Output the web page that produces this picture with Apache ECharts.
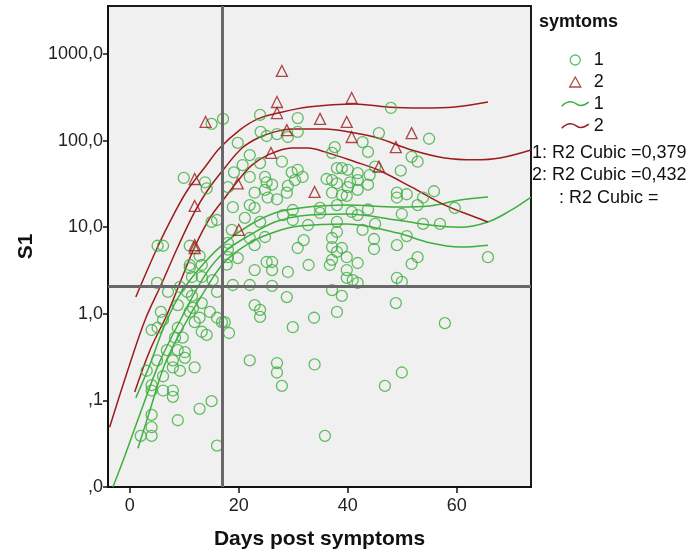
<!DOCTYPE html>
<html>
<head>
<meta charset="utf-8">
<script src="https://cdn.jsdelivr.net/npm/echarts@6/dist/echarts.min.js"></script>
<style>
html, body { margin: 0; background: #fff; }
#chart { width: 689px; height: 555px; }
</style>
</head>
<body>
<div id="chart"></div>
<script>
// symptoms = 1 (circles)
var group1Points = [
  [2.0,0.039],[4.0,0.039],[4.0,0.049],[4.0,0.068],[3.1,0.22],[4.0,0.15],[4.0,0.13],[5.0,0.29],[6.1,0.19],[6.1,0.13],
  [4.0,0.65],[5.1,0.69],[6.1,0.85],[5.7,1.05],[5.0,2.27],[7.0,1.79],[5.1,6.1],[6.1,6.1],
  [9.9,37],[15.0,156],[13.8,33],[14.1,28],[15.0,11.5],[16.0,12.1],[11.0,6.1],[12.8,4.65],[11.0,3.66],[11.0,3.38],
  [13.2,3.66],[11.4,2.66],[13.2,2.66],[15.2,2.45],[9.2,2.04],[10.5,1.79],[11.4,1.61],[16.0,1.79],[8.8,1.26],[11.6,1.17],
  [13.2,1.33],[11.0,1.05],[14.7,1.05],[11.9,0.80],[12.8,0.90],[16.0,0.90],[16.9,0.80],[13.2,0.62],[14.1,0.57],[8.8,0.69],
  [8.3,0.53],[9.7,0.53],[6.8,0.38],[8.8,0.38],[10.1,0.36],[7.9,0.29],[10.1,0.31],[7.9,0.24],[9.2,0.22],[11.9,0.24],
  [7.9,0.13],[7.9,0.11],[15.0,0.098],[12.8,0.080],[8.8,0.059],[16.0,0.030],
  [17.1,178],[19.8,94],[23.9,198],[24.0,126],[22.0,68],[23.9,55],[20.7,52],[19.1,43],[22.0,38],[18.0,29],
  [22.9,25],[18.9,17],[22.0,18],[22.9,16.7],[21.1,12.8],[23.9,11.5],[18.7,9.3],[22.0,7.5],[18.0,6.6],[22.9,6.2],
  [18.0,5.5],[18.0,4.5],[19.8,4.4],[17.8,3.7],[22.9,3.2],[18.9,2.15],[22.0,2.15],[22.9,1.26],[23.9,1.11],[23.9,0.92],
  [17.4,0.80],[18.2,0.60],[22.0,0.29],
  [30.8,182],[25.1,113],[27.0,119],[29.0,110],[30.8,126],[27.9,57],[24.8,38],[25.1,33],[26.1,31],[29.7,43],
  [30.8,46],[31.7,38],[30.3,35],[29.0,30],[28.8,25],[24.8,27],[25.3,22],[27.0,21],[28.1,13.8],[29.9,15.8],
  [29.9,12.1],[32.7,10.6],[24.8,7.7],[31.9,7.1],[30.8,5.75],[25.1,3.96],[26.1,3.96],[26.1,3.2],[29.0,3.04],[32.8,3.66],
  [26.1,2.1],[28.8,1.56],[29.9,0.70],[27.0,0.27],[27.0,0.21],[27.9,0.147],
  [37.6,84],[37.1,72],[38.0,48],[38.9,48],[40.0,46],[41.8,42],[36.1,36],[37.1,35],[38.0,32],[40.4,33],
  [41.8,35],[40.0,29],[41.8,27],[37.1,25],[38.9,23.5],[39.8,23],[38.0,18],[34.9,16.7],[34.9,14.6],[40.7,15],
  [41.8,13.8],[38.0,11.5],[38.0,8.8],[37.1,7.5],[37.1,5.9],[38.9,5.75],[38.0,5.2],[37.1,4.2],[39.8,4.5],[36.7,3.66],
  [41.8,3.86],[39.8,3.2],[39.8,2.6],[40.9,2.45],[41.8,2.27],[37.1,1.88],[38.9,1.61],[33.8,0.9],[38.0,1.05],[33.9,0.26],
  [35.8,0.039],
  [47.9,238],[45.7,122],[54.9,105],[42.7,96],[43.7,74],[45.0,50],[51.7,65],[52.8,57],[49.7,45],[44.0,40],
  [43.7,31],[49.0,25],[49.0,22],[50.8,24],[53.8,22],[55.8,26],[52.8,18],[59.6,16.7],[43.7,16],[49.9,14.2],
  [45.0,10.9],[53.8,10.9],[56.9,10.9],[42.7,9.3],[44.8,7.3],[50.8,7.9],[44.8,5.6],[49.0,6.2],[52.8,4.5],[51.7,3.76],
  [65.7,4.5],[49.0,2.6],[49.9,2.33],[48.8,1.33],[57.8,0.78],[49.9,0.21],[46.8,0.147]
];

// symptoms = 2 (triangles)
var group2Points = [
  [13.9,164],[11.9,36],[11.9,17.6],[11.9,6.2],[11.9,5.75],[20.0,9.3],[19.8,32],[25.9,72],[27.0,279],[27.0,208],
  [27.9,637],[28.8,132],[33.9,25.5],[34.9,178],[39.8,164],[40.7,310],[40.7,110],[45.7,50],[48.8,84],[51.7,122]
];

// cubic fit lines and mean CI lines
var fit1 = [[-3.1,0.01],[-0.9,0.023],[1.8,0.068],[5.5,0.28],[9.5,0.90],[13.8,2.8],[17.4,5.2],[22.0,8.1],[26.6,11.5],
  [31.2,13.5],[39.8,14.2],[49.0,12.1],[55.0,10.6],[60.6,10.0],[65.7,11.5],[69.7,15.4],[73.6,22.3]];
var upper1 = [[1.1,0.107],[3.7,0.26],[6.4,0.74],[9.5,1.79],[13.8,3.96],[17.4,6.6],[22.0,10.6],[26.6,14.6],[31.2,16.7],
  [39.8,18.0],[49.0,17.1],[55.0,17.6],[60.6,20.6],[65.7,22.3]];
var lower1 = [[1.5,0.028],[3.7,0.077],[6.4,0.26],[9.5,0.65],[13.8,1.88],[17.4,3.96],[22.0,6.6],[26.6,8.8],[31.2,10.3],
  [39.8,10.9],[49.0,8.6],[55.0,6.6],[60.6,5.9],[65.7,6.2]];
var fit2 = [[-3.7,0.049],[-0.4,0.22],[2.8,0.85],[5.9,2.27],[8.8,5.9],[11.9,15.0],[14.3,26.9],[17.4,48.3],[20.6,82],
  [23.5,107],[26.6,126],[29.7,136],[35.8,136],[41.3,122],[45.5,107],[51.7,78],[57.8,63],[63.3,60],[67.9,63],[73.6,78]];
var upper2 = [[1.1,1.56],[5.1,5.9],[8.3,15.0],[10.6,26.9],[13.8,49.5],[16.5,82],[20.2,133],[23.5,178],[27.2,208],
  [32.7,244],[41.3,265],[47.3,244],[53.6,238],[59.6,244],[65.7,279]];
var lower2 = [[0.9,0.125],[3.7,0.38],[6.8,0.97],[9.4,2.45],[11.9,5.9],[14.7,12.8],[17.4,21.7],[19.8,34.2],[22.4,52],
  [25.3,68],[29.7,82],[32.7,82],[35.8,74],[41.3,57],[45.5,46],[51.7,29],[57.8,18],[63.3,13.1],[65.7,11.5]];

var refX = 17;
var refY = 2.07;
var xTicks = [0, 20, 40, 60];
var yTicks = [0.01, 0.1, 1, 10, 100, 1000];
var r2Lines = ['1: R2 Cubic =0,379', '2: R2 Cubic =0,432', ': R2 Cubic ='];

var GREEN = '#3daf3d';
var RED = '#9c1c1c';
var FONT = '"Liberation Sans", Arial, sans-serif';

function spssNum(v) {
  var s = v.toFixed(1).replace('.', ',');
  if (s.indexOf('0,') === 0) s = s.substring(1);
  return s;
}

function curve(name, data, color) {
  return {
    name: name,
    type: 'line',
    data: data,
    smooth: 0.35,
    symbol: 'none',
    silent: true,
    lineStyle: { color: color, width: 1.5 },
    itemStyle: { color: color },
    z: 3
  };
}

var legendNames = { g1: '1', g2: '2', gfit: '1', rfit: '2' };
var wave = 'path://M0,6 C6,0 11,1 15,4 C19,7 23,5 27,2';
var tri = 'path://M5,0 L10,9 L0,9 Z';

var chart = echarts.init(document.getElementById('chart'), null, { renderer: 'canvas' });
chart.setOption({
  animation: false,
  backgroundColor: '#fff',
  textStyle: { fontFamily: FONT },
  grid: {
    left: 108, top: 6, width: 423, height: 481,
    show: true, backgroundColor: '#f0f0f0', borderColor: '#1a1a1a', borderWidth: 2
  },
  xAxis: {
    type: 'value', min: -4, max: 73.6,
    name: 'Days post symptoms', nameLocation: 'middle', nameGap: 42,
    nameTextStyle: { fontSize: 21, fontWeight: 'bold', color: '#111', fontFamily: FONT },
    axisLine: { show: true, onZero: false, lineStyle: { color: '#111', width: 2 } },
    axisTick: { show: true, length: 6, customValues: xTicks, lineStyle: { color: '#111', width: 1.5 } },
    axisLabel: { customValues: xTicks, fontSize: 18, color: '#222', margin: 10, fontFamily: FONT },
    splitLine: { show: false }
  },
  yAxis: {
    type: 'log', logBase: 10, min: 0.01, max: 3580,
    name: 'S1', nameLocation: 'middle', nameGap: 70, nameRotate: 90,
    nameTextStyle: { fontSize: 21, fontWeight: 'bold', color: '#111', fontFamily: FONT },
    axisLine: { show: true, onZero: false, lineStyle: { color: '#111', width: 2 } },
    axisTick: { show: true, length: 5, customValues: yTicks, lineStyle: { color: '#111', width: 1.5 } },
    axisLabel: { customValues: yTicks, fontSize: 18, color: '#222', margin: 5, fontFamily: FONT,
      formatter: function (v) { return spssNum(v); } },
    splitLine: { show: false }
  },
  legend: {
    orient: 'vertical', left: 556, top: 46,
    itemWidth: 27, itemHeight: 10, itemGap: 4,
    selectedMode: false,
    textStyle: { fontSize: 18, color: '#111', fontFamily: FONT },
    formatter: function (n) { return legendNames[n]; },
    data: [
      { name: 'g1', icon: 'circle', itemStyle: { color: 'rgba(0,0,0,0)', borderColor: GREEN, borderWidth: 1.3 } },
      { name: 'g2', icon: tri, itemStyle: { color: 'rgba(0,0,0,0)', borderColor: RED, borderWidth: 1.3 } },
      { name: 'gfit', icon: wave, itemStyle: { color: 'rgba(0,0,0,0)', borderColor: GREEN, borderWidth: 1.5 } },
      { name: 'rfit', icon: wave, itemStyle: { color: 'rgba(0,0,0,0)', borderColor: RED, borderWidth: 1.5 } }
    ]
  },
  graphic: [
    { type: 'text', left: 539, top: 13, style: { text: 'symtoms', font: 'bold 18px ' + FONT, fill: '#111' } },
    { type: 'text', left: 532, top: 144, style: { text: r2Lines[0], font: '18px ' + FONT, fill: '#111' } },
    { type: 'text', left: 532, top: 166, style: { text: r2Lines[1], font: '18px ' + FONT, fill: '#111' } },
    { type: 'text', left: 559, top: 189, style: { text: r2Lines[2], font: '18px ' + FONT, fill: '#111' } }
  ],
  series: [
    {
      name: 'g1', type: 'scatter', data: group1Points,
      symbol: 'circle', symbolSize: 11, silent: true,
      itemStyle: { color: 'rgba(0,0,0,0)', borderColor: GREEN, borderWidth: 1.3 },
      z: 4,
      markLine: {
        silent: true, symbol: ['none', 'none'], label: { show: false },
        lineStyle: { color: '#686868', width: 3, type: 'solid' },
        data: [{ xAxis: refX }, { yAxis: refY }]
      }
    },
    {
      name: 'g2', type: 'scatter', data: group2Points,
      symbol: 'triangle', symbolSize: 11, silent: true,
      itemStyle: { color: 'rgba(0,0,0,0)', borderColor: RED, borderWidth: 1.3 },
      z: 4
    },
    curve('gfit', fit1, GREEN),
    curve('gup', upper1, GREEN),
    curve('glow', lower1, GREEN),
    curve('rfit', fit2, RED),
    curve('rup', upper2, RED),
    curve('rlow', lower2, RED)
  ]
});
</script>
</body>
</html>
